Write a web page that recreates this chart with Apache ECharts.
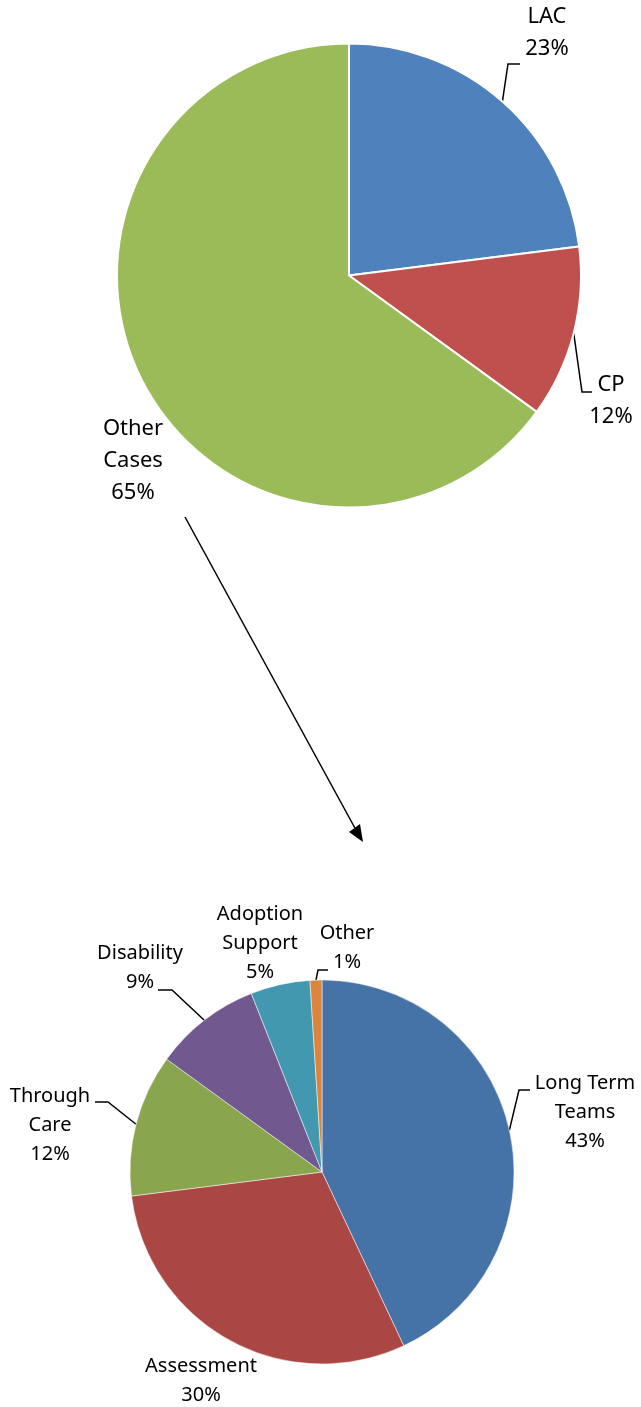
<!DOCTYPE html>
<html>
<head>
<meta charset="utf-8">
<script src="https://cdn.jsdelivr.net/npm/echarts@6/dist/echarts.min.js"></script>
<style>
html,body{margin:0;padding:0;background:#fff;}
#chart{width:641px;height:1407px;}
</style>
</head>
<body>
<div id="chart"></div>
<script>
// Top pie: all cases
var topCategories = ['LAC', 'CP', 'Other Cases'];
var topLabelText = ['LAC', 'CP', 'Other\nCases'];
var topValues = [23, 12, 65];
var topColors = ['#4F81BD', '#C0504D', '#9BBB59'];

// Bottom pie: breakdown of "Other Cases"
var botCategories = ['Long Term Teams', 'Assessment', 'Through Care', 'Disability', 'Adoption Support', 'Other'];
var botLabelText = ['Long Term\nTeams', 'Assessment', 'Through\nCare', 'Disability', 'Adoption\nSupport', 'Other'];
var botValues = [43, 30, 12, 9, 5, 1];
var botColors = ['#4572A7', '#AA4643', '#89A54E', '#71588F', '#4198AF', '#DB843D'];

// Label placement (label block centres) and leader elbows
var topLabelPos = [[547, 33], [611, 401], [133, 461]];
var topElbows = [[[508, 64], [520, 64]], [[582, 392], [592, 392]], null];
var botLabelPos = [[585, 1112], [201, 1381], [50, 1125], [140, 968], [260, 943], [347, 948]];
var botElbows = [[[519, 1090], [530, 1090]], null, [[108, 1102], [95, 1102]], [[172, 990], [158, 990]], null, [[318, 970], [328, 970]]];

function buildData(cats, vals, colors) {
  return cats.map(function (c, i) {
    return { name: c, value: vals[i], itemStyle: { color: colors[i] } };
  });
}

var chart = echarts.init(document.getElementById('chart'), null, { renderer: 'canvas' });

function makeLayout(posArr, elbowArr) {
  return function (params) {
    var i = params.dataIndex;
    var p = posArr[i];
    var res = { x: p[0], y: p[1], align: 'center', verticalAlign: 'middle', hideOverlap: false, moveOverlap: false };
    var el = elbowArr[i];
    if (el && params.labelLinePoints) {
      var s = params.labelLinePoints[0];
      res.labelLinePoints = [[s[0], s[1]], el[0], el[1]];
    } else if (params.labelLinePoints) {
      var s2 = params.labelLinePoints[0];
      res.labelLinePoints = [[s2[0], s2[1]], [s2[0], s2[1]], [s2[0], s2[1]]];
    }
    return res;
  };
}

var topData = buildData(topCategories, topValues, topColors);
var botData = buildData(botCategories, botValues, botColors);
topData.forEach(function (d, i) { if (!topElbows[i]) d.labelLine = { show: false }; });
botData.forEach(function (d, i) { if (!botElbows[i]) d.labelLine = { show: false }; });

var option = {
  backgroundColor: '#fff',
  animation: false,
  series: [
    {
      type: 'pie',
      center: [349, 275.5],
      radius: [0, 232],
      startAngle: 90,
      clockwise: true,
      avoidLabelOverlap: false,
      itemStyle: { borderColor: '#fff', borderWidth: 2 },
      label: {
        show: true,
        position: 'outside',
        color: '#000',
        fontFamily: 'Noto Sans',
        fontSize: 22,
        lineHeight: 32,
        formatter: function (p) { return topLabelText[p.dataIndex] + '\n' + p.value + '%'; }
      },
      labelLine: { show: true, length: 10, length2: 10, lineStyle: { color: '#000', width: 1.5 } },
      labelLayout: makeLayout(topLabelPos, topElbows),
      emphasis: { disabled: true },
      data: topData
    },
    {
      type: 'pie',
      center: [322, 1172],
      radius: [0, 192],
      startAngle: 90,
      clockwise: true,
      avoidLabelOverlap: false,
      itemStyle: { borderColor: '#fff', borderWidth: 0.5 },
      label: {
        show: true,
        position: 'outside',
        color: '#000',
        fontFamily: 'Noto Sans',
        fontSize: 20,
        lineHeight: 29,
        formatter: function (p) { return botLabelText[p.dataIndex] + '\n' + p.value + '%'; }
      },
      labelLine: { show: true, length: 10, length2: 10, lineStyle: { color: '#000', width: 1.5 } },
      labelLayout: makeLayout(botLabelPos, botElbows),
      emphasis: { disabled: true },
      data: botData
    }
  ],
  graphic: [
    {
      type: 'line',
      shape: { x1: 185, y1: 517, x2: 356, y2: 830 },
      style: { stroke: '#000', lineWidth: 1.5 }
    },
    {
      type: 'polygon',
      shape: { points: [[363, 842], [349, 832], [360, 824]] },
      style: { fill: '#000' }
    }
  ]
};
chart.setOption(option);
</script>
</body>
</html>
